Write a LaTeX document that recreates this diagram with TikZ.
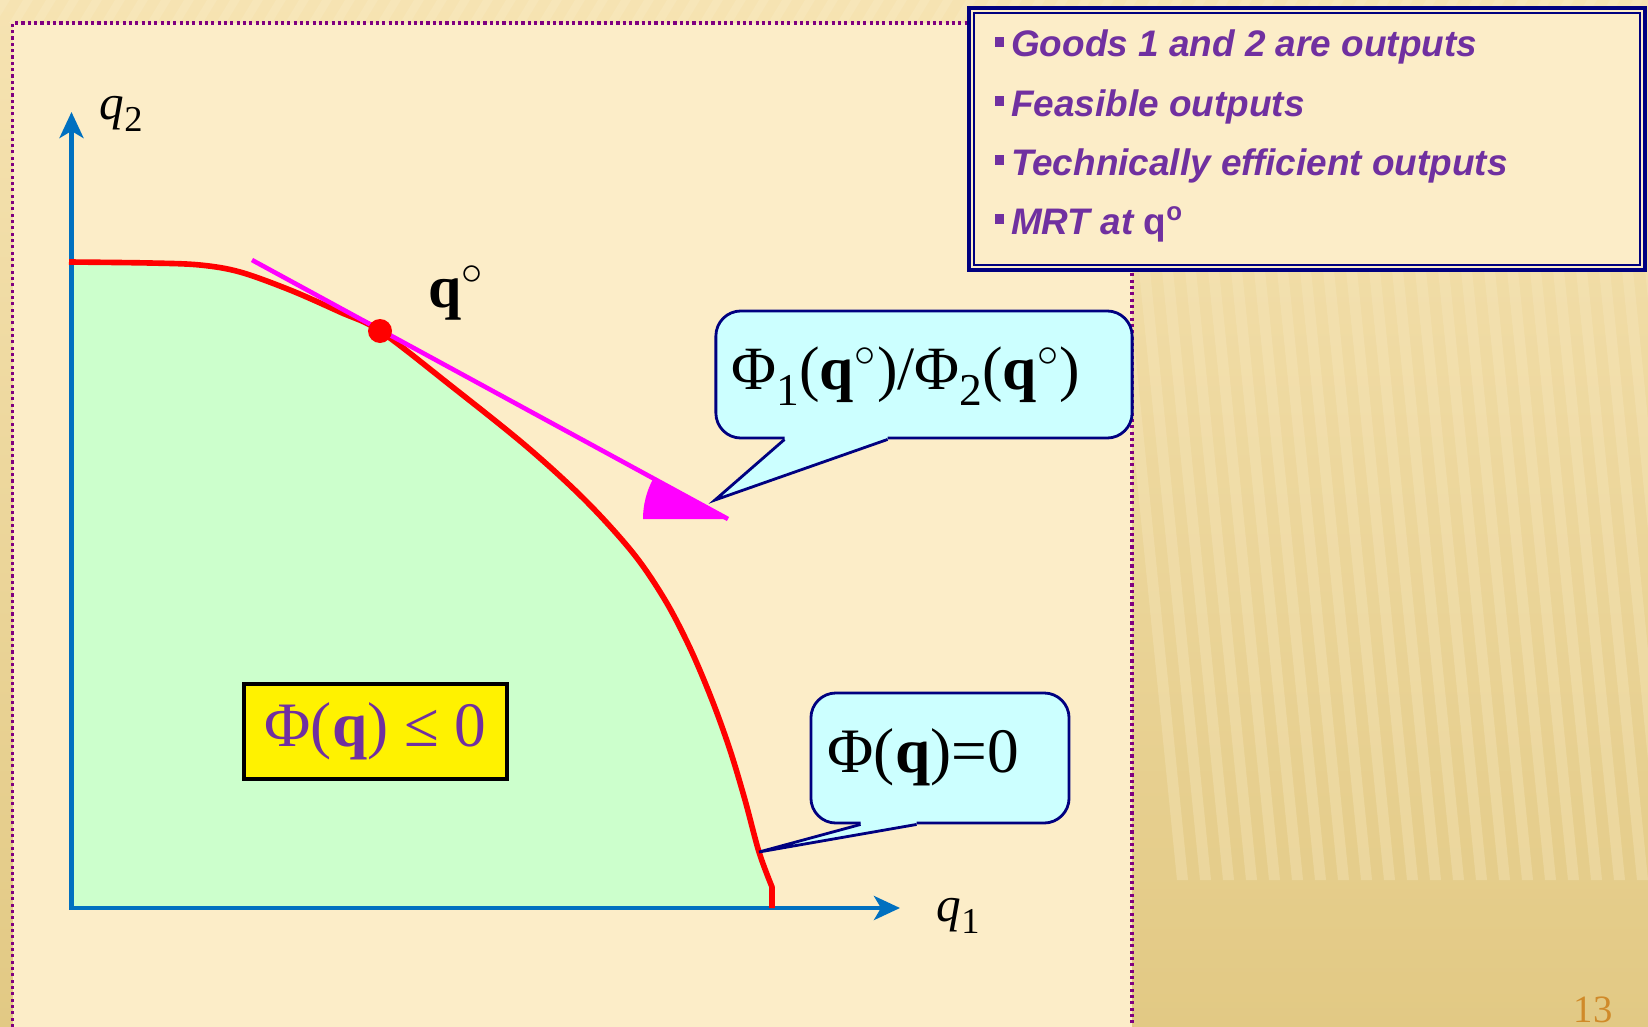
\documentclass[tikz,border=0pt]{standalone}
\usepackage{fontspec}
\usepackage{graphicx}
\setmainfont{Liberation Serif}
\setsansfont{Liberation Sans}
\usetikzlibrary{arrows.meta, calc, positioning}

\definecolor{bgTop}{HTML}{F6E3B2}
\definecolor{bgBottom}{HTML}{E2C984}
\definecolor{stripeLight}{HTML}{F8E9C0}
\definecolor{slideCream}{HTML}{FCEDC8}
\definecolor{frameViolet}{HTML}{800080}
\definecolor{axisBlue}{HTML}{0070C0}
\definecolor{feasGreen}{HTML}{CCFFCC}
\definecolor{bubbleFill}{HTML}{CCFFFF}
\definecolor{bubbleEdge}{HTML}{000080}
\definecolor{textPurple}{HTML}{7030A0}
\definecolor{tangentPink}{HTML}{FF00FF}
\definecolor{pageOrange}{HTML}{D08A2A}

\tikzset{
  axis/.style={axisBlue, line width=1.2pt,
    {Stealth[length=0.26cm, width=0.24cm, inset=0.07cm]}-{Stealth[length=0.26cm, width=0.24cm, inset=0.07cm]}},
  frontier/.style={red, line width=1.6pt, line join=round},
  bubble/.style={draw=bubbleEdge, fill=bubbleFill, line width=0.8pt, rounded corners=0.25cm, inner sep=0pt},
  pointer/.style={bubbleEdge, line width=0.8pt, line join=miter},
  axislabel/.style={inner sep=0pt, font=\fontsize{14}{16}\selectfont},
  itemtext/.style={inner sep=0pt, text=textPurple, font=\fontsize{10.5}{12}\selectfont\sffamily\bfseries\itshape},
}

\newcommand{\itembox}{\rule[2.9pt]{2.7pt}{2.7pt}\hspace{2pt}}
\newcommand{\lowsub}[1]{\raisebox{-0.26em}{\scalebox{0.74}{#1}}}

\begin{document}
\begin{tikzpicture}[x=0.01cm, y=-0.01cm]
  \useasboundingbox (0,0) rectangle (1648,1027);

  % Slide background
  \shade[top color=bgTop, bottom color=bgBottom] (0,0) rectangle (1648,1027);
  \begin{scope}
    \clip (1132,260) rectangle (1648,1027);
    \foreach \s in {0,...,23}
      \fill[stripeLight, opacity=0.35] (1115+23*\s,260) -- ++(11,0) -- ++(62,620) -- ++(-11,0) -- cycle;
  \end{scope}
  \begin{scope}
    \clip (0,0) rectangle (1648,23);
    \foreach \s in {0,...,75}
      \fill[stripeLight, opacity=0.5] (23*\s,0) -- ++(10,0) -- ++(-14,23) -- ++(-10,0) -- cycle;
  \end{scope}

  % Dotted frame of the plot area
  \fill[slideCream] (12.6,23) rectangle (1132,1027);
  \draw[frameViolet, line width=1pt, dash pattern=on 0.9pt off 0.9pt]
    (12.6,1027) -- (12.6,23) -- (1132,23) -- (1132,1027);

  % Axes
  \coordinate (O) at (71.5,908);
  \coordinate (xEnd) at (900,908);
  \coordinate (yEnd) at (71.5,112);

  % Feasible set
  \fill[feasGreen] plot[smooth, tension=0.55] coordinates {(69,262) (150,263) (200,265) (240,272) (290,290) (340,312) (380,331)
      (450,385) (526,446) (585,500) (633,553) (665,600) (690,648) (712,700) (730,750) (745,800) (759,852) (772,887)}
    -- (772,908) -- (O) -- cycle;

  \draw[axis] (yEnd) -- (O) -- (xEnd);
  \node[axislabel, anchor=base west] (qOne) at (936,921) {\textit{q}\lowsub{1}};
  \node[axislabel, anchor=base west] (qTwo) at (99,119) {\textit{q}\lowsub{2}};

  % Frontier
  \draw[frontier] plot[smooth, tension=0.55] coordinates {(69,262) (150,263) (200,265) (240,272) (290,290) (340,312) (380,331)
      (450,385) (526,446) (585,500) (633,553) (665,600) (690,648) (712,700) (730,750) (745,800) (759,852) (772,887)}
    -- (772,908);

  % Tangent at q and its angle
  \coordinate (qo) at (380,331);
  \coordinate (tanStart) at (252,260);
  \coordinate (tanEnd) at (728,519);
  \draw[tangentPink, line width=1.3pt] (tanStart) -- (tanEnd);
  \fill[tangentPink] (tanEnd) -- ++(-85,0) arc (180:208.5:85) -- cycle;
  \fill[red] (qo) circle [radius=12];
  \node[inner sep=0pt, anchor=base west, font=\fontsize{17}{20}\selectfont] (qoLabel) at (428,307)
    {\textbf{q}\textsuperscript{$\circ$}};

  % Callout for the MRT
  \node[bubble, minimum width=4.16cm, minimum height=1.27cm] (ratioBox) at (924,374.5) {};
  \coordinate (ratioTip) at (715,500);
  \fill[bubbleFill] ([xshift=0.70cm, yshift=0.05cm]ratioBox.south west) -- ([xshift=0.70cm]ratioBox.south west)
    -- (ratioTip) -- ([xshift=1.73cm]ratioBox.south west) -- ([xshift=1.73cm, yshift=0.05cm]ratioBox.south west) -- cycle;
  \draw[pointer] ([xshift=0.70cm]ratioBox.south west) -- (ratioTip) -- ([xshift=1.73cm]ratioBox.south west);
  \node[inner sep=0pt, anchor=base west, font=\fontsize{17.5}{20}\selectfont] (ratioText) at (731,389)
    {Φ\lowsub{1}(\textbf{q}\textsuperscript{$\circ$})/Φ\lowsub{2}(\textbf{q}\textsuperscript{$\circ$})};

  % Callout for the frontier
  \node[bubble, minimum width=2.58cm, minimum height=1.30cm] (zeroBox) at (940,758) {};
  \coordinate (frontTip) at (759,852);
  \fill[bubbleFill] ([xshift=0.51cm, yshift=0.05cm]zeroBox.south west) -- ([xshift=0.51cm]zeroBox.south west)
    -- (frontTip) -- ([xshift=1.07cm]zeroBox.south west) -- ([xshift=1.07cm, yshift=0.05cm]zeroBox.south west) -- cycle;
  \draw[pointer] ([xshift=0.51cm]zeroBox.south west) -- (frontTip) -- ([xshift=1.07cm]zeroBox.south west);
  \node[inner sep=0pt, anchor=base west, font=\fontsize{18}{20}\selectfont] (zeroText) at (827,772)
    {Φ(\textbf{q})=0};

  % Feasible region label
  \node[draw=black, fill=yellow, line width=1pt, minimum width=2.63cm, minimum height=0.95cm, inner sep=0pt,
    text=textPurple, font=\fontsize{18}{20}\selectfont] (feasBox) at (375.5,731.5) {Φ(\textbf{q}) ≤ 0};

  % Key points box
  \node[draw=bubbleEdge, fill=slideCream, line width=1.1pt, minimum width=6.76cm, minimum height=2.62cm,
    inner sep=0pt] (goalsBox) at (1307,139) {};
  \draw[bubbleEdge, line width=0.5pt] ([shift={(0.07cm,-0.07cm)}]goalsBox.north west)
    rectangle ([shift={(-0.07cm,0.07cm)}]goalsBox.south east);
  \foreach \txt [count=\i] in {Goods 1 and 2 are outputs, Feasible outputs, Technically efficient outputs,
      MRT at {\upshape q\textsuperscript{o}}}
    \node[itemtext, anchor=base west] (item\i) at (994,{57+59*(\i-1)}) {\itembox\txt};

  % Slide number
  \node[inner sep=0pt, anchor=south, text=pageOrange, font=\fontsize{11}{12}\selectfont] (pageNo) at (1593,1024) {13};
\end{tikzpicture}
\end{document}
